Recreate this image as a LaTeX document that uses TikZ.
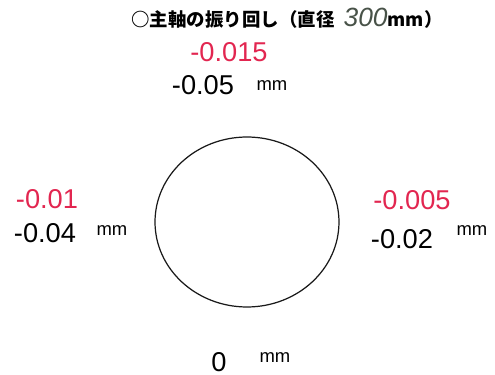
\documentclass[tikz,border=0pt]{standalone}
\usepackage{fontspec}
\setmainfont{Liberation Sans}
\newfontfamily\jpfont{Noto Sans CJK JP}
\usetikzlibrary{positioning}
\usetikzlibrary{shapes.geometric}
\definecolor{pen}{RGB}{226,38,80}
\definecolor{pencil}{RGB}{72,82,72}

\begin{document}
\begin{tikzpicture}[x=0.02cm, y=-0.02cm, font=\small]%

            \tikzstyle{rim} = [ ellipse, draw = black!90, line width = 0.7pt, minimum width = 3.68cm, minimum height = 3.4cm, inner sep = 0pt]
            \tikzstyle{val} = [ inner sep = 0pt, font = \fontsize{15.5}{18}\selectfont]
            \tikzstyle{old} = [ inner sep = 0pt, text = pen, font = \fontsize{15.5}{18}\selectfont]
            \tikzstyle{unit} = [ inner sep = 0pt, font = \fontsize{10.5}{12}\selectfont]
            \tikzstyle{head} = [ inner sep = 0pt, font = \fontsize{10.5}{12}\selectfont\jpfont\bfseries]
        %%
            \useasboundingbox (0,0) rectangle (495,375);
            %% Title
            \node [head] (title) at (287,18) {○主軸の振り回し（直径\hspace{0.5em}{\color{pencil}\rmfamily\mdseries\itshape\fontsize{15}{15}\selectfont 300}mm）};

            %% Spindle
            \node [rim] (spindle) at (247,222) {};

            %% Top
            \node [old] (old_top) at (229,52) {-0.015};
            \node [val] (val_top) at (203,85) {-0.05};
            \node [unit] (unit_top) at (272,86) {mm};

            %% Left
            \node [old] (old_left) at (47,199) {-0.01};
            \node [val] (val_left) at (45,233) {-0.04};
            \node [unit] (unit_left) at (112,231) {mm};

            %% Right
            \node [old] (old_right) at (412,200) {-0.005};
            \node [val] (val_right) at (402,239) {-0.02};
            \node [unit] (unit_right) at (472,231) {mm};

            %% Bottom
            \node [val] (val_bottom) at (219,362) {0};
            \node [unit] (unit_bottom) at (275,358) {mm};
\end{tikzpicture}
\end{document}
